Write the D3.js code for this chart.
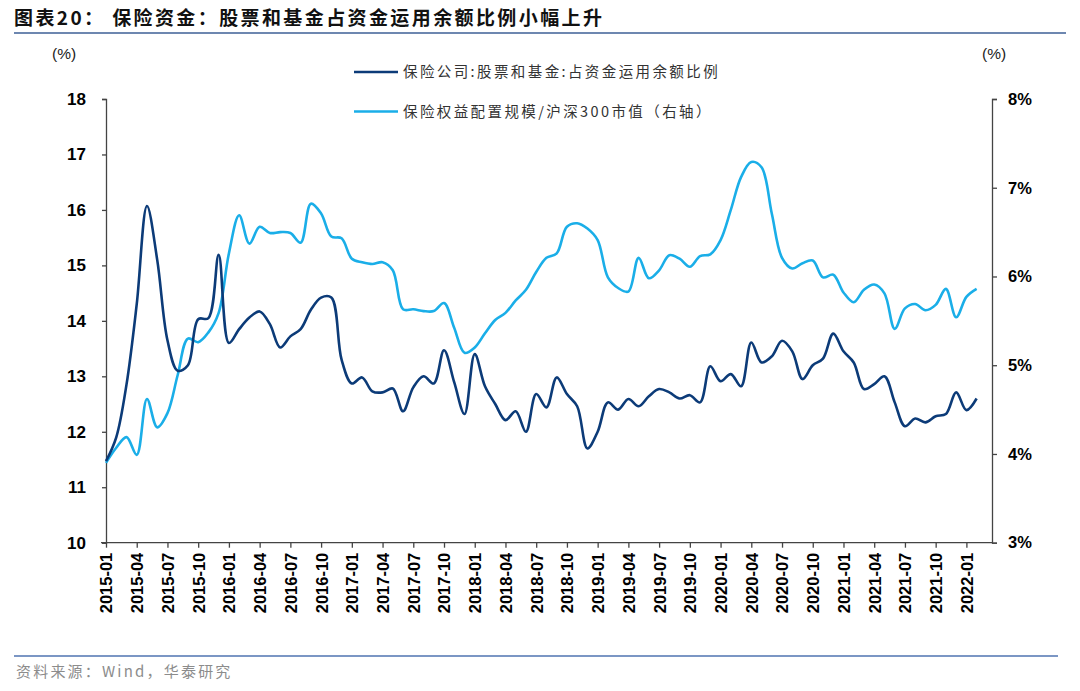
<!DOCTYPE html>
<html>
<head>
<meta charset="utf-8">
<script src="https://cdn.jsdelivr.net/npm/d3@7/dist/d3.min.js"></script>
<style>
  body { margin: 0; background: #fff; }
  svg { display: block; }
  .tick text { font-family: "Liberation Sans", Arial, sans-serif; font-weight: bold; fill: #000; }
</style>
</head>
<body>
<svg id="chart" width="1080" height="691"></svg>
<script>
/* dados: mes 0 = 2015-01 ... mes 85 = 2022-02 */
var inicio = new Date(2015, 0, 1);

/* 保险公司:股票和基金:占资金运用余额比例 (eixo esquerdo, %) */
var propAcoes = [
  11.47, 11.9, 12.85, 14.3, 16.07, 15.1, 13.65, 13.1, 13.2, 14.03,
  14.05, 15.19, 13.6, 13.85, 14.06, 14.17, 13.94, 13.52, 13.72, 13.85,
  14.2, 14.42, 14.42, 13.3, 12.87, 12.98, 12.73, 12.71, 12.78, 12.37,
  12.8, 13.0, 12.87, 13.47, 12.89, 12.32, 13.4, 12.82, 12.5, 12.21,
  12.37, 12.0, 12.68, 12.44, 12.98, 12.68, 12.46, 11.7, 12.0, 12.53,
  12.4, 12.59, 12.46, 12.64, 12.77, 12.71, 12.6, 12.66, 12.53, 13.18,
  12.91, 13.04, 12.82, 13.61, 13.25, 13.36, 13.64, 13.45, 12.95, 13.2,
  13.32, 13.77, 13.45, 13.25, 12.77, 12.86, 13.0, 12.53, 12.1, 12.24,
  12.17, 12.28, 12.32, 12.71, 12.39, 12.6
];

/* 保险权益配置规模/沪深300市值 (eixo direito, %) */
var propHs300 = [
  3.9, 4.07, 4.19, 3.99, 4.62, 4.3, 4.46, 4.89, 5.3, 5.26,
  5.37, 5.59, 6.26, 6.69, 6.37, 6.56, 6.49, 6.5, 6.49, 6.38,
  6.82, 6.71, 6.45, 6.43, 6.2, 6.16, 6.14, 6.16, 6.07, 5.63,
  5.63, 5.61, 5.61, 5.7, 5.42, 5.14, 5.2, 5.36, 5.51, 5.59,
  5.73, 5.85, 6.05, 6.21, 6.26, 6.56, 6.6, 6.54, 6.41, 5.99,
  5.87, 5.83, 6.21, 5.98, 6.07, 6.24, 6.2, 6.11, 6.23, 6.25,
  6.41, 6.75, 7.12, 7.29, 7.23, 6.71, 6.21, 6.09, 6.15, 6.18,
  5.99, 6.02, 5.82, 5.71, 5.85, 5.91, 5.81, 5.41, 5.64, 5.69,
  5.62, 5.68, 5.86, 5.54, 5.77, 5.86
];

var ticksEsq = [10, 11, 12, 13, 14, 15, 16, 17, 18];
var ticksDir = [3, 4, 5, 6, 7, 8];
var ticksX = d3.range(0, 85, 3);

var legendas = ["保险公司:股票和基金:占资金运用余额比例", "保险权益配置规模/沪深300市值（右轴）"];
var cores = ["#0c3b78", "#1aaee8"];

var titulo = "图表20：  保险资金：股票和基金占资金运用余额比例小幅上升";
var fonte = "资料来源：Wind，华泰研究";

function rotuloMes(i) {
  var d = new Date(inicio.getFullYear(), inicio.getMonth() + i, 1);
  return d3.timeFormat("%Y-%m")(d);
}

var svg = d3.select("#chart");
var cjk = "'Noto Sans CJK SC', 'Noto Sans', sans-serif";

var x = d3.scaleLinear().domain([0, 86.5]).range([106, 992]);
var yE = d3.scaleLinear().domain([10, 18]).range([542.7, 99]);
var yD = d3.scaleLinear().domain([3, 8]).range([542.7, 99]);

/* titulo e linhas */
svg.append("text").attr("x", 14).attr("y", 25)
  .attr("font-family", cjk).attr("font-weight", "bold").attr("font-size", 19)
  .attr("letter-spacing", 2.4).attr("fill", "#111").text(titulo);
svg.append("line").attr("x1", 14).attr("x2", 1066).attr("y1", 33).attr("y2", 33)
  .attr("stroke", "#6d87b0").attr("stroke-width", 2);
svg.append("line").attr("x1", 14).attr("x2", 1058).attr("y1", 656).attr("y2", 656)
  .attr("stroke", "#7b96c4").attr("stroke-width", 2);
svg.append("text").attr("x", 16).attr("y", 677)
  .attr("font-family", cjk).attr("font-size", 15).attr("letter-spacing", 2.2)
  .attr("fill", "#8c8c8c").text(fonte);

/* unidades */
svg.append("text").attr("x", 52).attr("y", 59).attr("font-family", "'Liberation Sans', Arial")
  .attr("font-size", 15.5).attr("fill", "#222").text("(%)");
svg.append("text").attr("x", 982).attr("y", 59).attr("font-family", "'Liberation Sans', Arial")
  .attr("font-size", 15.5).attr("fill", "#222").text("(%)");

/* eixos */
var eixoEsq = svg.append("g").attr("transform", "translate(106,0)")
  .call(d3.axisLeft(yE).tickValues(ticksEsq).tickSize(4).tickPadding(16).tickFormat(d3.format("d")));
var eixoDir = svg.append("g").attr("transform", "translate(992,0)")
  .call(d3.axisRight(yD).tickValues(ticksDir).tickSize(5).tickPadding(11).tickFormat(function(d){ return d + "%"; }));
var eixoX = svg.append("g").attr("transform", "translate(0,542.7)")
  .call(d3.axisBottom(x).tickValues(ticksX).tickSize(5).tickFormat(rotuloMes));

[eixoEsq, eixoDir, eixoX].forEach(function(g){
  g.select(".domain").attr("stroke", "#444").attr("stroke-width", 1.3);
  g.selectAll(".tick line").attr("stroke", "#444").attr("stroke-width", 1.3);
});
eixoEsq.selectAll(".tick text").attr("font-size", 17);
eixoDir.selectAll(".tick text").attr("font-size", 16.5);
eixoX.select(".domain").attr("d", "M101,0H992");
eixoX.selectAll(".tick text")
  .attr("font-size", 16.5)
  .attr("text-anchor", "end")
  .attr("transform", "rotate(-90)")
  .attr("x", -10).attr("y", 0).attr("dy", "0.36em");

/* linhas */
var linhaE = d3.line().x(function(d, i){ return x(i); }).y(function(d){ return yE(d); })
  .curve(d3.curveCatmullRom.alpha(0.5));
var linhaD = d3.line().x(function(d, i){ return x(i); }).y(function(d){ return yD(d); })
  .curve(d3.curveCatmullRom.alpha(0.5));

svg.append("path").datum(propHs300).attr("d", linhaD)
  .attr("fill", "none").attr("stroke", cores[1]).attr("stroke-width", 2.6);
svg.append("path").datum(propAcoes).attr("d", linhaE)
  .attr("fill", "none").attr("stroke", cores[0]).attr("stroke-width", 2.6);

/* legenda */
var leg = svg.append("g").selectAll("g").data(legendas).enter().append("g")
  .attr("transform", function(d, i){ return "translate(354," + (72 + i * 39.5) + ")"; });
leg.append("line").attr("x1", 0).attr("x2", 44).attr("y1", 0).attr("y2", 0)
  .attr("stroke", function(d, i){ return cores[i]; }).attr("stroke-width", 2.6);
leg.append("text").attr("x", 49).attr("y", 0).attr("dy", "0.36em")
  .attr("font-family", cjk).attr("font-size", 14.5).attr("letter-spacing", 2.4).attr("fill", "#333")
  .text(function(d){ return d; });
</script>
</body>
</html>
